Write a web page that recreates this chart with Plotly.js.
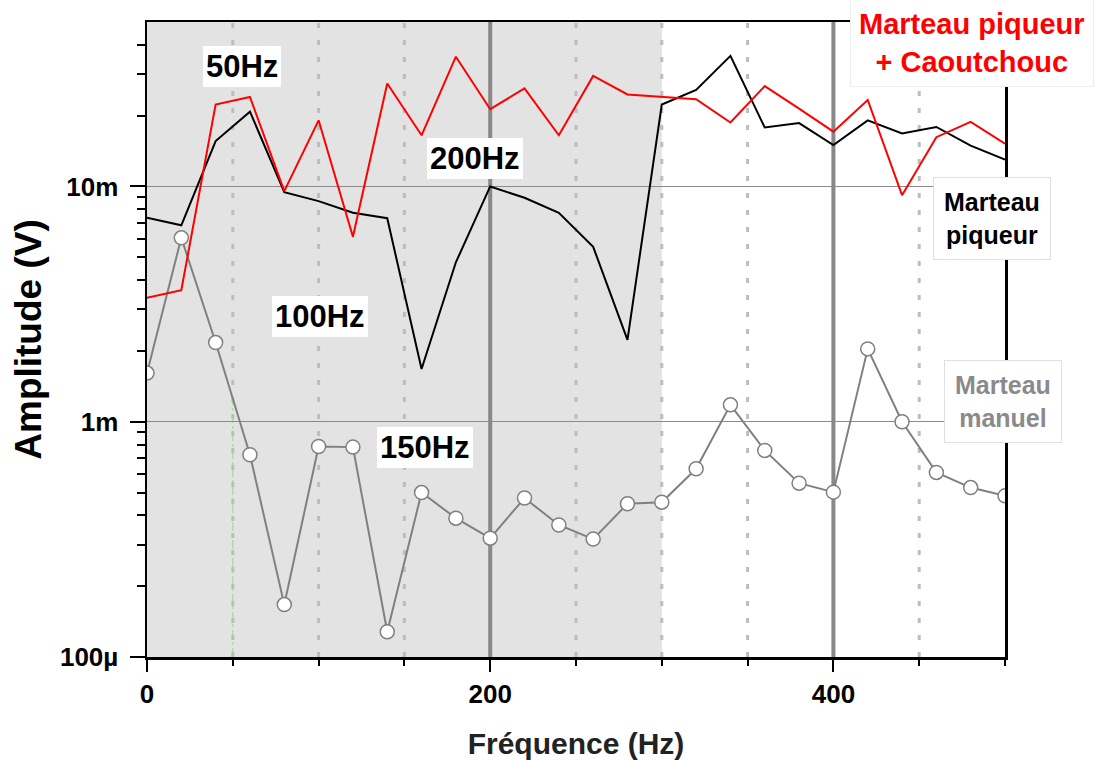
<!DOCTYPE html>
<html>
<head>
<meta charset="utf-8">
<script src="https://cdn.plot.ly/plotly-3.0.1.min.js"></script>
<style>
html,body{margin:0;padding:0;background:#fff;}
#chart{width:1095px;height:760px;}
</style>
</head>
<body>
<div id="chart"></div>
<script>
// Frequencies (Hz)
const freq = [0,20,40,60,80,100,120,140,160,180,200,220,240,260,280,300,320,340,360,380,400,420,440,460,480,500];

// Marteau piqueur (V)
const piqueur = [7.36e-3,6.84e-3,1.56e-2,2.08e-2,9.46e-3,8.66e-3,7.73e-3,7.33e-3,1.675e-3,4.76e-3,1.00e-2,8.95e-3,7.73e-3,5.54e-3,2.23e-3,2.23e-2,2.57e-2,3.59e-2,1.78e-2,1.86e-2,1.50e-2,1.91e-2,1.68e-2,1.79e-2,1.49e-2,1.30e-2];

// Marteau piqueur + Caoutchouc (V)
const caoutchouc = [3.36e-3,3.62e-3,2.23e-2,2.40e-2,9.55e-3,1.91e-2,6.11e-3,2.74e-2,1.65e-2,3.56e-2,2.13e-2,2.61e-2,1.65e-2,2.95e-2,2.46e-2,2.40e-2,2.35e-2,1.87e-2,2.67e-2,2.14e-2,1.71e-2,2.33e-2,9.18e-3,1.62e-2,1.88e-2,1.52e-2];

// Marteau manuel (V)
const manuel = [1.61e-3,6.05e-3,2.17e-3,7.24e-4,1.67e-4,7.85e-4,7.80e-4,1.28e-4,5.00e-4,3.89e-4,3.20e-4,4.74e-4,3.64e-4,3.17e-4,4.48e-4,4.55e-4,6.31e-4,1.18e-3,7.55e-4,5.48e-4,5.02e-4,2.04e-3,1.00e-3,6.09e-4,5.25e-4,4.84e-4];

// Axis ticks
const yTickVals = [1e-4,1e-3,1e-2];
const yTickText = ['100µ','1m','10m'];
const yMinorVals = [2e-4,3e-4,4e-4,5e-4,6e-4,7e-4,8e-4,9e-4,2e-3,3e-3,4e-3,5e-3,6e-3,7e-3,8e-3,9e-3,2e-2,3e-2,4e-2];

// Reference frequencies
const dottedFreqs = [50,100,150,250,300,350,450];
const solidFreqs = [200,400];
const shadedRange = [0,300];

const FONT = 'Liberation Sans, Arial, sans-serif';

const traces = [
  {
    x: freq, y: manuel, type: 'scatter', mode: 'lines+markers', name: 'Marteau manuel',
    line: {color: '#808080', width: 2},
    marker: {symbol: 'circle', size: 14, color: '#ffffff', line: {color: '#808080', width: 1.5}},
    showlegend: false, hoverinfo: 'x+y'
  },
  {
    x: freq, y: piqueur, type: 'scatter', mode: 'lines', name: 'Marteau piqueur',
    line: {color: '#000000', width: 2},
    showlegend: false
  },
  {
    x: freq, y: caoutchouc, type: 'scatter', mode: 'lines', name: 'Marteau piqueur + Caoutchouc',
    line: {color: '#ff0000', width: 2},
    showlegend: false
  }
];

const shapes = [
  {type: 'rect', xref: 'x', yref: 'paper', x0: shadedRange[0], x1: shadedRange[1], y0: 0, y1: 1,
   fillcolor: '#e3e3e3', line: {width: 0}, layer: 'below'}
];
dottedFreqs.forEach(f => shapes.push({
  type: 'line', xref: 'x', yref: 'paper', x0: f, x1: f, y0: 0, y1: 1,
  line: {color: '#bdbdbd', width: 3, dash: '5px,12px'}, layer: 'between'
}));
solidFreqs.forEach(f => shapes.push({
  type: 'line', xref: 'x', yref: 'paper', x0: f, x1: f, y0: 0, y1: 1,
  line: {color: '#888888', width: 4}, layer: 'between'
}));
shapes.push({type: 'line', xref: 'x', yref: 'paper', x0: 50, x1: 50, y0: 0, y1: 0.41,
  line: {color: '#9ad49a', width: 1, dash: 'dashdot'}, layer: 'between'});

function boxNote(text, x, y, size, color, pad, border) {
  return {
    text: text, xref: 'paper', yref: 'paper', x: x, y: y,
    xanchor: 'center', yanchor: 'middle', showarrow: false,
    font: {family: FONT, size: size, color: color, weight: 'bold'},
    bgcolor: '#ffffff', bordercolor: border || 'rgba(0,0,0,0)', borderwidth: border ? 1 : 0,
    borderpad: pad
  };
}

const annotations = [
  boxNote('50Hz', 0.1113, 0.9296, 31, '#000000', 3),
  boxNote('100Hz', 0.2016, 0.537, 31, '#000000', 3),
  boxNote('150Hz', 0.324, 0.33, 31, '#000000', 3),
  boxNote('200Hz', 0.3823, 0.785, 31, '#000000', 3),
  boxNote('Marteau piqueur<br>+ Caoutchouc', 0.962, 0.967, 29, '#ff0000', 8, '#eeeeee'),
  boxNote('Marteau<br>piqueur', 0.985, 0.691, 25, '#000000', 10, '#e0e0e0'),
  boxNote('Marteau<br>manuel', 0.998, 0.4016, 25, '#8a8a8a', 10, '#e0e0e0')
];

const layout = {
  width: 1095, height: 760,
  margin: {l: 147, r: 90, t: 22, b: 103},
  paper_bgcolor: '#ffffff', plot_bgcolor: '#ffffff',
  font: {family: FONT, color: '#000000'},
  xaxis: {
    range: [0, 500], tick0: 0, dtick: 200,
    ticks: 'outside', ticklen: 12, tickwidth: 2, tickcolor: '#000',
    minor: {dtick: 50, tick0: 0, ticks: 'outside', ticklen: 6, tickwidth: 2, tickcolor: '#000', showgrid: false},
    showline: true, linewidth: 2.5, linecolor: '#000', mirror: true,
    showgrid: false, zeroline: false,
    tickfont: {family: FONT, size: 26, color: '#000', weight: 'bold'},
    title: {text: 'Fréquence (Hz)', font: {family: FONT, size: 30, color: '#222', weight: 'bold'}, standoff: 26}
  },
  xaxis2: {
    overlaying: 'x', side: 'top', anchor: 'y', matches: 'x',
    range: [0, 500], tick0: 0, dtick: 200,
    ticks: 'inside', ticklen: 13, tickwidth: 2, tickcolor: '#000',
    minor: {dtick: 50, tick0: 0, ticks: 'inside', ticklen: 7, tickwidth: 2, tickcolor: '#000', showgrid: false},
    showticklabels: false, showline: false, showgrid: false, zeroline: false
  },
  yaxis: {
    type: 'log', range: [-4, Math.log10(0.05)],
    tickmode: 'array', tickvals: yTickVals, ticktext: yTickText,
    ticks: 'outside', ticklen: 15, tickwidth: 2, tickcolor: '#000',
    ticklabelstandoff: 6,
    minor: {tickmode: 'array', tickvals: yMinorVals, ticks: 'outside', ticklen: 8, tickwidth: 2, tickcolor: '#000', showgrid: false},
    showline: true, linewidth: 2.5, linecolor: '#000', mirror: true,
    showgrid: true, gridcolor: '#8a8a8a', gridwidth: 1.5, zeroline: false,
    tickfont: {family: FONT, size: 26, color: '#000', weight: 'bold'},
    title: {text: 'Amplitude (V)', font: {family: FONT, size: 37, color: '#000', weight: 'bold'}, standoff: 7}
  },
  shapes: shapes,
  annotations: annotations,
  showlegend: false
};

Plotly.newPlot('chart', traces, layout, {displayModeBar: false, staticPlot: true});
</script>
</body>
</html>
